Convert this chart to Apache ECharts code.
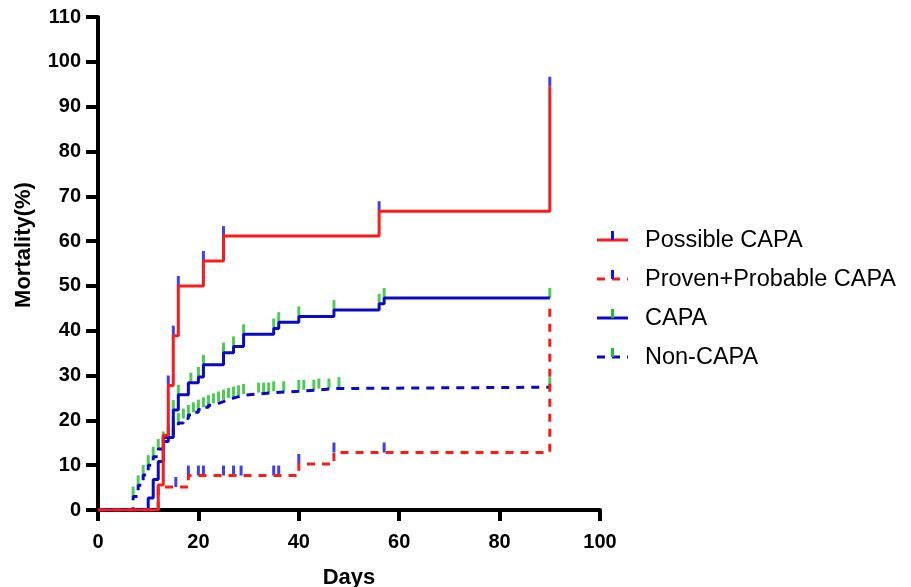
<!DOCTYPE html>
<html>
<head>
<meta charset="utf-8">
<script src="https://cdn.jsdelivr.net/npm/echarts@6/dist/echarts.min.js"></script>
<style>
  html, body { margin: 0; padding: 0; background: #fff; }
  #chart { width: 911px; height: 587px; }
</style>
</head>
<body>
<div id="chart"></div>
<script>
// Cumulative mortality (%) over days, step curves with censor marks
const xTicks = [0, 20, 40, 60, 80, 100];
const yTicks = [0, 10, 20, 30, 40, 50, 60, 70, 80, 90, 100, 110];

// Possible CAPA
const possibleDays = [0, 12, 13, 14, 15, 16, 21, 25, 56, 90];
const possibleVals = [0, 5.56, 16.67, 27.78, 38.89, 50.0, 55.56, 61.11, 66.67, 94.44];
const possibleCensor = [14, 15, 16, 21, 25, 56, 90];

// Proven+Probable CAPA
const provenDays = [0, 12, 18, 40, 47, 90];
const provenVals = [0, 5.13, 7.69, 10.26, 12.82, 46.0];
const provenCensor = [15.5, 18, 20, 21, 25, 27, 28.5, 35, 36, 40, 47, 57];

// CAPA
const capaDays = [0, 10, 11, 12, 13, 15, 16, 18, 20, 21, 25, 27, 29, 35, 36, 40, 47, 56, 57, 90];
const capaVals = [0, 2.7, 6.8, 10.8, 16.2, 22.3, 25.7, 28.4, 29.7, 32.4, 35.1, 36.5, 39.2, 40.5, 41.9, 43.2, 44.6, 46.0, 47.3, 47.3];
const capaCensor = [14, 15, 16, 18.5, 20, 21, 25, 27, 29, 35, 36, 40, 47, 56, 57, 90];

// Non-CAPA
const nonDays = [0, 7, 8, 9, 10, 11, 12, 13, 14, 15, 16, 17, 18, 19, 20, 21, 22, 23, 24, 25, 26, 27, 28, 29, 32, 35, 40, 44, 47, 90];
const nonVals = [0, 3.0, 5.5, 7.8, 10.0, 11.9, 13.6, 15.3, 16.8, 18.2, 19.4, 20.4, 21.2, 21.8, 22.4, 22.9, 23.4, 23.8, 24.2, 24.6, 25.0, 25.3, 25.6, 25.9, 26.2, 26.5, 26.8, 27.1, 27.4, 27.4];
const nonCensor = [7, 8, 9, 10, 11, 12, 13, 14, 15, 16, 17, 18, 19, 20, 21, 22, 23, 24, 25, 26, 27, 28, 29, 32, 33, 34, 35, 37, 40, 41, 43, 44, 46, 48, 90];

const RED = '#ff1a1a';
const NAVY = '#0a0ac8';
const BLUE_TICK = '#1010f0';
const GREEN = '#1fbf28';
const FONT = "'Liberation Sans', Arial, sans-serif";

function levelAt(days, vals, d) {
  let v = 0;
  for (let i = 0; i < days.length; i++) if (days[i] <= d) v = vals[i];
  return v;
}
function pairs(days, vals) { return days.map((d, i) => [d, vals[i]]); }
function censorPoints(days, vals, cens) { return cens.map(d => [d, levelAt(days, vals, d)]); }

const curves = [
  { name: 'Possible CAPA', days: possibleDays, vals: possibleVals, cens: possibleCensor, color: RED, tick: BLUE_TICK, dash: 'solid' },
  { name: 'Proven+Probable CAPA', days: provenDays, vals: provenVals, cens: provenCensor, color: RED, tick: BLUE_TICK, dash: [8, 7] },
  { name: 'CAPA', days: capaDays, vals: capaVals, cens: capaCensor, color: NAVY, tick: GREEN, dash: 'solid' },
  { name: 'Non-CAPA', days: nonDays, vals: nonVals, cens: nonCensor, color: NAVY, tick: GREEN, dash: [8, 7] }
];

const series = [];
// censor marks first so the curves sit on top of their bases
curves.slice().reverse().forEach(c => {
  series.push({
    name: c.name + ' censored',
    type: 'scatter',
    data: censorPoints(c.days, c.vals, c.cens),
    symbol: 'rect',
    symbolSize: [3, 10],
    symbolOffset: [0, '-50%'],
    itemStyle: { color: c.tick },
    z: 2,
    silent: true
  });
});
curves.slice().reverse().forEach(c => {
  series.push({
    name: c.name,
    type: 'line',
    step: 'end',
    data: pairs(c.days, c.vals),
    symbol: 'none',
    lineStyle: { color: c.color, width: 3, type: c.dash },
    z: 3,
    silent: true
  });
});

// legend drawn as graphic items (line with a coloured censor mark)
const legendY = [240, 279, 318, 357];
const legendGraphics = [];
curves.forEach((c, i) => {
  const y = legendY[i];
  legendGraphics.push({
    type: 'line',
    shape: { x1: 597, y1: y, x2: 628, y2: y },
    style: { stroke: c.color, lineWidth: 3, lineDash: c.dash === 'solid' ? null : [8, 7] }
  });
  legendGraphics.push({
    type: 'rect',
    shape: { x: 611, y: y - 9, width: 3, height: 9 },
    style: { fill: c.tick }
  });
  legendGraphics.push({
    type: 'text',
    x: 645, y: y + 1,
    style: { text: c.name, font: '23.5px ' + FONT, fill: '#000', textVerticalAlign: 'middle', verticalAlign: 'middle' }
  });
});
legendGraphics.push({
  type: 'text',
  x: 24, y: 245,
  rotation: Math.PI / 2,
  style: { text: 'Mortality(%)', font: 'bold 22px ' + FONT, fill: '#000', align: 'center', textAlign: 'center', verticalAlign: 'middle', textVerticalAlign: 'middle' }
});

const chart = echarts.init(document.getElementById('chart'), null, { renderer: 'canvas' });
chart.setOption({
  animation: false,
  backgroundColor: '#ffffff',
  grid: { left: 98, right: 311, top: 17, bottom: 77, containLabel: false, outerBoundsMode: 'none' },
  xAxis: {
    type: 'value',
    min: xTicks[0], max: xTicks[xTicks.length - 1], interval: 20,
    name: 'Days', nameLocation: 'middle', nameGap: 57,
    nameTextStyle: { fontSize: 22, fontWeight: 'bold', color: '#000', fontFamily: FONT },
    axisLine: { show: true, lineStyle: { color: '#000', width: 4 } },
    axisTick: { show: true, length: 11, lineStyle: { color: '#000', width: 4 } },
    axisLabel: { fontSize: 20, fontWeight: 'bold', color: '#000', fontFamily: FONT, margin: 22 },
    splitLine: { show: false }
  },
  yAxis: {
    type: 'value',
    min: yTicks[0], max: yTicks[yTicks.length - 1], interval: 10,
    axisLine: { show: true, lineStyle: { color: '#000', width: 4 } },
    axisTick: { show: true, length: 12, lineStyle: { color: '#000', width: 4 } },
    axisLabel: { fontSize: 20, fontWeight: 'bold', color: '#000', fontFamily: FONT, margin: 17 },
    splitLine: { show: false }
  },
  graphic: legendGraphics,
  series: series
});
</script>
</body>
</html>
